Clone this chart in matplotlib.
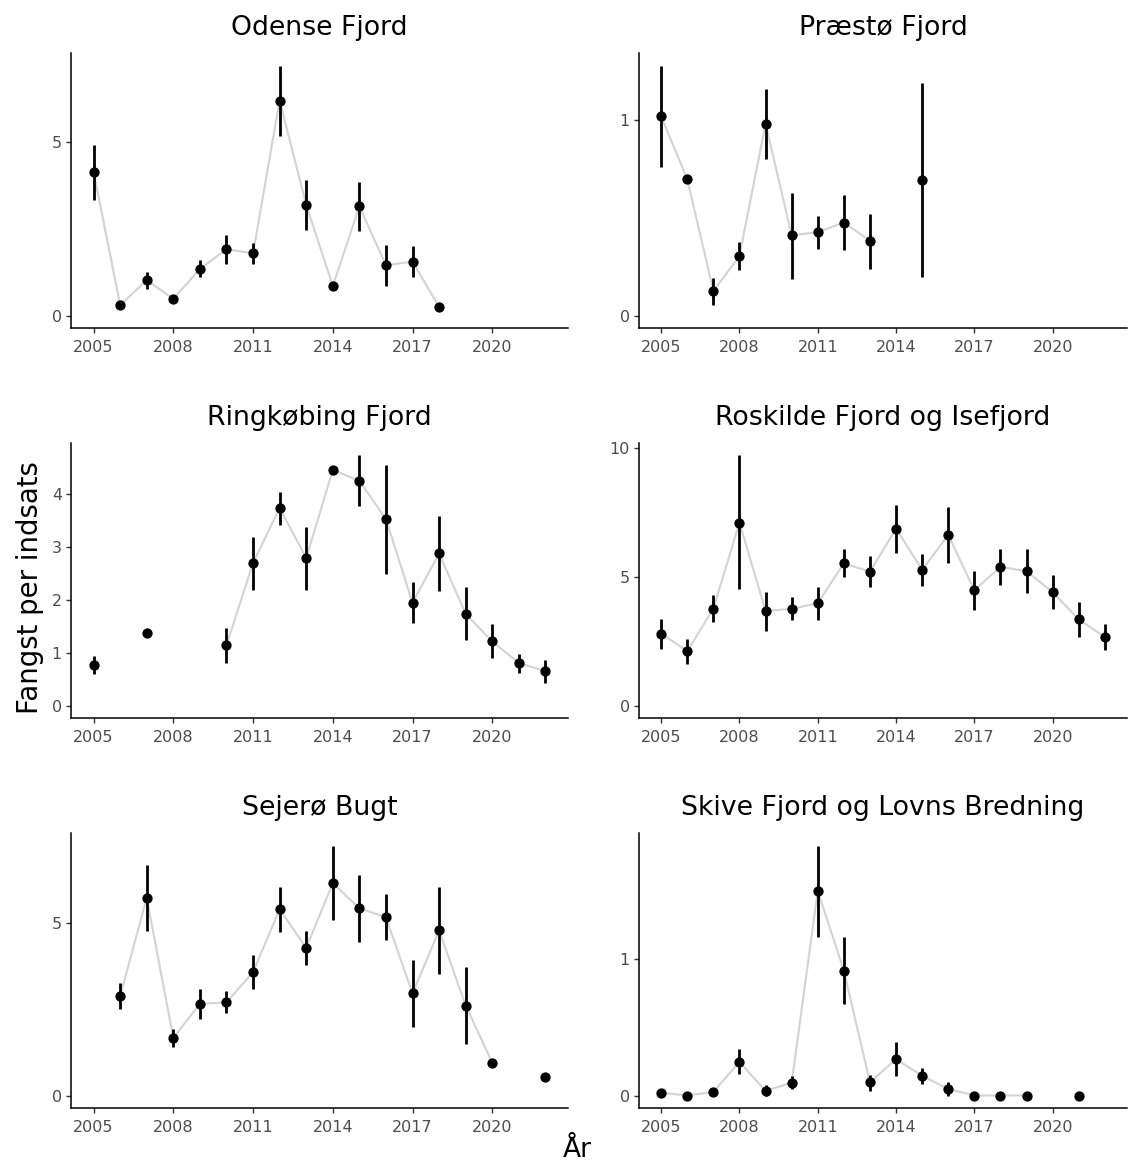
import numpy as np
import matplotlib
matplotlib.use("Agg")
import matplotlib.pyplot as plt

nan = np.nan
years = list(range(2005, 2023))
xticks = [2005, 2008, 2011, 2014, 2017, 2020]

# ---- data: mean catch per effort with lower/upper bounds, 2005..2022 ----
odense_mean = [4.14, 0.30, 1.02, 0.48, 1.34, 1.91, 1.79, 6.19, 3.19, 0.85, 3.14, 1.45, 1.55, 0.25, nan, nan, nan, nan]
odense_lo = [3.34, 0.22, 0.77, 0.43, 1.10, 1.49, 1.48, 5.17, 2.46, 0.76, 2.42, 0.85, 1.10, 0.21, nan, nan, nan, nan]
odense_hi = [4.92, 0.38, 1.25, 0.53, 1.59, 2.32, 2.09, 7.20, 3.91, 0.93, 3.85, 2.04, 1.99, 0.29, nan, nan, nan, nan]

praesto_mean = [1.017, 0.696, 0.125, 0.304, 0.98, 0.409, 0.426, 0.475, 0.382, nan, 0.693, nan, nan, nan, nan, nan, nan, nan]
praesto_lo = [0.757, 0.696, 0.054, 0.233, 0.799, 0.188, 0.34, 0.333, 0.24, nan, 0.198, nan, nan, nan, nan, nan, nan, nan]
praesto_hi = [1.277, 0.696, 0.19, 0.377, 1.159, 0.628, 0.508, 0.615, 0.52, nan, 1.186, nan, nan, nan, nan, nan, nan, nan]

ringk_mean = [0.77, nan, 1.36, nan, nan, 1.14, 2.69, 3.73, 2.78, 4.45, 4.24, 3.52, 1.94, 2.87, 1.73, 1.21, 0.80, 0.65]
ringk_lo = [0.59, nan, 1.36, nan, nan, 0.80, 2.18, 3.41, 2.18, 4.45, 3.76, 2.49, 1.55, 2.16, 1.23, 0.89, 0.62, 0.43]
ringk_hi = [0.94, nan, 1.36, nan, nan, 1.47, 3.19, 4.04, 3.37, 4.45, 4.72, 4.55, 2.33, 3.58, 2.24, 1.54, 0.97, 0.86]

roskilde_mean = [2.79, 2.11, 3.76, 7.10, 3.67, 3.75, 3.97, 5.52, 5.19, 6.86, 5.26, 6.62, 4.47, 5.38, 5.21, 4.40, 3.34, 2.66]
roskilde_lo = [2.21, 1.62, 3.23, 4.51, 2.91, 3.30, 3.32, 4.97, 4.59, 5.93, 4.65, 5.54, 3.72, 4.67, 4.35, 3.74, 2.64, 2.16]
roskilde_hi = [3.35, 2.57, 4.29, 9.70, 4.40, 4.20, 4.61, 6.06, 5.80, 7.77, 5.89, 7.69, 5.21, 6.08, 6.08, 5.07, 4.03, 3.16]

sejero_mean = [nan, 2.89, 5.73, 1.67, 2.66, 2.70, 3.58, 5.40, 4.28, 6.16, 5.43, 5.17, 2.96, 4.79, 2.61, 0.95, nan, 0.53]
sejero_lo = [nan, 2.50, 4.77, 1.40, 2.23, 2.39, 3.09, 4.75, 3.78, 5.08, 4.46, 4.50, 1.99, 3.52, 1.48, 0.95, nan, 0.53]
sejero_hi = [nan, 3.27, 6.68, 1.92, 3.09, 3.02, 4.07, 6.04, 4.76, 7.25, 6.40, 5.85, 3.93, 6.06, 3.74, 0.95, nan, 0.53]

skive_mean = [0.02, 0.0, 0.027, 0.246, 0.034, 0.094, 1.498, 0.915, 0.097, 0.266, 0.145, 0.048, 0.0, 0.0, 0.0, nan, 0.0, nan]
skive_lo = [0.02, 0.0, 0.01, 0.155, 0.0, 0.046, 1.164, 0.667, 0.036, 0.14, 0.082, -0.007, 0.0, 0.0, 0.0, nan, 0.0, nan]
skive_hi = [0.02, 0.0, 0.045, 0.338, 0.075, 0.143, 1.831, 1.164, 0.152, 0.389, 0.205, 0.099, 0.0, 0.0, 0.0, nan, 0.0, nan]

panels = [
    ("Odense Fjord", odense_mean, odense_lo, odense_hi, [0, 5]),
    ("Præstø Fjord", praesto_mean, praesto_lo, praesto_hi, [0, 1]),
    ("Ringkøbing Fjord", ringk_mean, ringk_lo, ringk_hi, [0, 1, 2, 3, 4]),
    ("Roskilde Fjord og Isefjord", roskilde_mean, roskilde_lo, roskilde_hi, [0, 5, 10]),
    ("Sejerø Bugt", sejero_mean, sejero_lo, sejero_hi, [0, 5]),
    ("Skive Fjord og Lovns Bredning", skive_mean, skive_lo, skive_hi, [0, 1]),
]

W, H = 1128, 1164
fig = plt.figure(figsize=(W / 100, H / 100), dpi=100)

# panel boxes in pixels: (left, right) per column, (top, bottom) per row
cols = [(71, 568), (639, 1127)]
rows = [(53, 328), (443, 718), (833, 1108)]

for i, (name, m, lo, hi, yt) in enumerate(panels):
    c = cols[i % 2]
    r = rows[i // 2]
    ax = fig.add_axes([c[0] / W, 1 - r[1] / H, (c[1] - c[0]) / W, (r[1] - r[0]) / H])
    m = np.array(m)
    lo = np.array(lo)
    hi = np.array(hi)
    ax.plot(years, m, color="#D3D3D3", lw=1.5, zorder=1)
    ax.vlines(years, lo, hi, color="black", lw=2.0, zorder=2)
    ax.plot(years, m, "o", color="black", ms=6.4, zorder=3)
    top = np.nanmax(hi)
    ax.set_ylim(-0.05 * top, 1.05 * top)
    ax.set_xlim(2004.15, 2022.85)
    ax.set_xticks(xticks)
    ax.set_yticks(yt)
    ax.set_title(name, fontsize=19.3, pad=13)
    for s in ["top", "right"]:
        ax.spines[s].set_visible(False)
    for s in ["left", "bottom"]:
        ax.spines[s].set_linewidth(1.1)
    ax.tick_params(labelsize=11.5, colors="#333333", labelcolor="#4D4D4D",
                   length=3.5, width=1.0)
    ax.tick_params(axis="x", pad=5)
    ax.tick_params(axis="y", pad=3)

fig.text(30 / W, 1 - 588 / H, "Fangst per indsats", rotation=90, fontsize=19.8,
         ha="center", va="center")
fig.text(577 / W, 1 - 1150 / H, "År", fontsize=19, ha="center", va="center")

fig.savefig("out.png", dpi=100)
